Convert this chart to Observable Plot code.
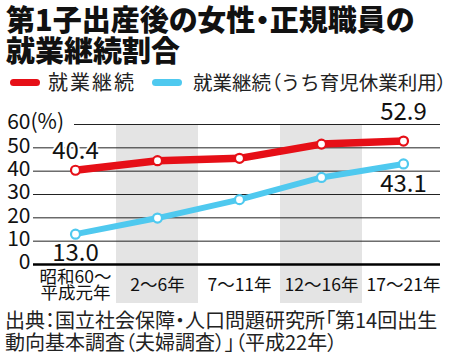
<!DOCTYPE html>
<html><head><meta charset="utf-8">
<script src="https://cdn.jsdelivr.net/npm/d3@7"></script>
<script src="https://cdn.jsdelivr.net/npm/@observablehq/plot@0.6"></script>
<style>
body{margin:0;background:#fff;font-family:"Noto Sans CJK JP",sans-serif;}
#wrap{position:relative;width:450px;height:353px;overflow:hidden;background:#fff;}
.title{position:absolute;left:6px;font-size:29px;font-weight:900;line-height:31px;color:#111;white-space:nowrap;font-feature-settings:"palt"}
.sw{position:absolute;height:7px;border-radius:4px;top:79px;width:30px}
.lg{position:absolute;top:71px;line-height:22px;white-space:nowrap;color:#222}
.p{font-feature-settings:"palt"}
#chart{position:absolute;left:0;top:96px}
.src{position:absolute;left:5px;font-size:20px;line-height:21px;font-feature-settings:"palt";white-space:nowrap;color:#222}
</style></head>
<body>
<div id="wrap">
  <div class="title" style="top:3px">第1子出産後の女性・正規職員の</div>
  <div class="title" style="top:34px">就業継続割合</div>
  <span class="sw" style="left:10px;background:#e60f17"></span>
  <span class="lg" style="left:48px;font-size:20px;letter-spacing:2px">就業継続</span>
  <span class="sw" style="left:152px;background:#4fc9ef"></span>
  <span class="lg" style="left:193px;font-size:19.5px">就業継続<span class="p">（</span>うち育児休業利用<span class="p">）</span></span>
  <div id="chart"></div>
  <div class="src" style="top:309px">出典：国立社会保障・人口問題研究所「第14回出生</div>
  <div class="src" style="top:331px">動向基本調査（夫婦調査）」（平成22年）</div>
</div>
<script>
const categories = ["昭和60～平成元年", "2～6年", "7～11年", "12～16年", "17～21年"];
const tickLabels = ["昭和60～\n平成元年", "2～6年", "7～11年", "12～16年", "17～21年"];
const employed = [40.4, 44.5, 45.5, 51.6, 52.9];
const withLeave = [13.0, 19.9, 27.8, 37.3, 43.1];
const yTicks = [0, 10, 20, 30, 40, 50, 60];
const shadedCategories = [categories[1], categories[3]];

const rows = categories.map((c, i) => ({cat: c, label: tickLabels[i], employed: employed[i], leave: withLeave[i]}));
const RED = "#e60f17", BLUE = "#4fc9ef";
const numFont = {fontFamily: "'Noto Sans CJK JP', sans-serif", fontSize: 24, fill: "#111"};

const chart = Plot.plot({
  width: 450,
  height: 212,
  marginLeft: 33,
  marginRight: 5,
  marginTop: 28,
  marginBottom: 44,
  style: {fontFamily: "'Noto Sans CJK JP', sans-serif", background: "transparent", overflow: "visible"},
  x: {type: "band", domain: categories, padding: 0, axis: null},
  y: {domain: [0, 60], axis: null},
  marks: [
    Plot.cell(shadedCategories, {x: d => d, fill: "#e4e4e4", insetBottom: -39}),
    Plot.ruleY(yTicks.filter(t => t > 0 && t < 60), {y: d => d, stroke: "#222", strokeWidth: 1, insetRight: 5}),
    Plot.ruleY([60], {y: d => d, stroke: "#222", strokeWidth: 1, insetRight: 5, insetLeft: 41}),
    Plot.ruleY([0], {y: d => d, stroke: "#000", strokeWidth: 2.7, insetRight: 5}),
    Plot.text(yTicks, {y: d => d, text: d => String(d), frameAnchor: "left", textAnchor: "end", dx: -3, dy: -2, fontSize: 21, fill: "#111"}),
    Plot.text([60], {y: d => d, text: () => "(%)", frameAnchor: "left", textAnchor: "start", dx: -3, dy: -2, fontSize: 21, fill: "#111"}),
    Plot.text(rows, {x: "cat", text: "label", frameAnchor: "bottom", lineAnchor: "middle", dy: 21, fontSize: 17.5, lineHeight: 0.95, fill: "#111"}),
    Plot.line(rows, {x: "cat", y: "leave", stroke: BLUE, strokeWidth: 6}),
    Plot.line(rows, {x: "cat", y: "employed", stroke: RED, strokeWidth: 7.5}),
    Plot.dot(rows, {x: "cat", y: "leave", r: 4.5, fill: "white", stroke: BLUE, strokeWidth: 2.2}),
    Plot.dot(rows, {x: "cat", y: "employed", r: 4.5, fill: "white", stroke: RED, strokeWidth: 2.2}),
    Plot.text([rows[0]], {x: "cat", y: "employed", text: d => d.employed.toFixed(1), dy: -19, stroke: "white", strokeWidth: 4, ...numFont}),
    Plot.text([rows[4]], {x: "cat", y: "employed", text: d => d.employed.toFixed(1), dy: -29, ...numFont}),
    Plot.text([rows[0]], {x: "cat", y: "leave", text: d => d.leave.toFixed(1), dy: 19, ...numFont}),
    Plot.text([rows[4]], {x: "cat", y: "leave", text: d => d.leave.toFixed(1), dy: 20, ...numFont})
  ]
});
document.getElementById("chart").appendChild(chart);
</script>
</body></html>
